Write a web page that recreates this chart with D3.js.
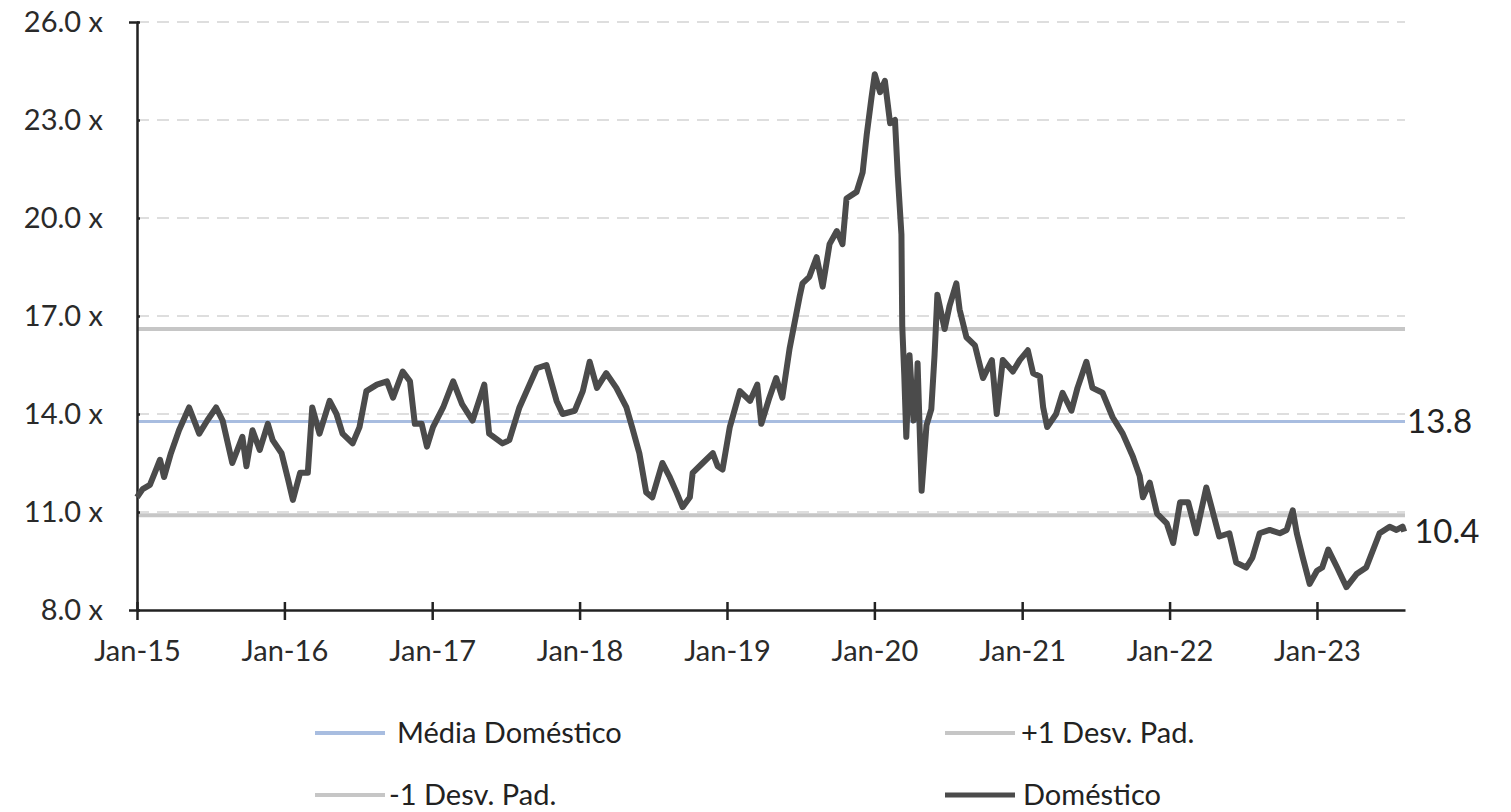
<!DOCTYPE html>
<html>
<head>
<meta charset="utf-8">
<script src="https://cdn.jsdelivr.net/npm/d3@7"></script>
<style>
  body { margin: 0; background: #fff; }
  text { font-family: Lato, "Open Sans", sans-serif; }
</style>
</head>
<body>
<div id="container"></div>
<script>
// P/L Doméstico
const dates = [
  "2015-01-01","2015-01-15","2015-02-02","2015-02-14","2015-02-27","2015-03-09","2015-03-26","2015-04-15",
  "2015-05-10","2015-06-04","2015-06-24","2015-07-16","2015-08-01","2015-08-25","2015-09-19","2015-09-29",
  "2015-10-14","2015-11-01","2015-11-21","2015-12-03","2015-12-25","2016-01-10","2016-01-22","2016-02-09",
  "2016-02-28","2016-03-10","2016-03-28","2016-04-22","2016-05-09","2016-05-24","2016-06-18","2016-07-05",
  "2016-07-22","2016-08-17","2016-09-11","2016-09-26","2016-10-20","2016-11-07","2016-11-19","2016-12-06",
  "2016-12-19","2017-01-03","2017-01-28","2017-02-22","2017-03-16","2017-04-11","2017-05-10","2017-05-22",
  "2017-06-24","2017-07-11","2017-08-05","2017-09-17","2017-10-11","2017-11-05","2017-11-20","2017-12-20",
  "2018-01-09","2018-01-26","2018-02-13","2018-03-08","2018-04-02","2018-04-27","2018-05-11","2018-05-29",
  "2018-06-15","2018-06-30","2018-07-25","2018-08-11","2018-08-29","2018-09-13","2018-10-01","2018-10-08",
  "2018-11-02","2018-11-27","2018-12-09","2018-12-21","2019-01-08","2019-02-02","2019-02-27","2019-03-17",
  "2019-03-27","2019-04-16","2019-05-03","2019-05-18","2019-06-05","2019-06-30","2019-07-07","2019-07-24",
  "2019-08-11","2019-08-26","2019-09-12","2019-09-30","2019-10-14","2019-10-24","2019-11-18","2019-12-03",
  "2019-12-13","2019-12-25","2020-01-02","2020-01-15","2020-01-27","2020-02-09","2020-02-21","2020-02-28",
  "2020-03-08","2020-03-10","2020-03-15","2020-03-20","2020-03-28","2020-04-07","2020-04-14","2020-04-17",
  "2020-04-27","2020-05-09","2020-05-21","2020-05-29","2020-06-05","2020-06-23","2020-07-05","2020-07-22",
  "2020-07-30","2020-08-16","2020-09-06","2020-09-26","2020-10-18","2020-10-30","2020-11-14","2020-12-09",
  "2020-12-26","2021-01-15","2021-01-28","2021-02-14","2021-02-22","2021-03-04","2021-03-26","2021-04-11",
  "2021-05-03","2021-05-18","2021-06-09","2021-06-24","2021-07-19","2021-08-13","2021-09-07","2021-10-02",
  "2021-10-19","2021-10-27","2021-11-13","2021-12-01","2021-12-25","2022-01-10","2022-01-27","2022-02-16",
  "2022-03-08","2022-04-02","2022-04-17","2022-05-04","2022-05-29","2022-06-15","2022-07-10","2022-07-25",
  "2022-08-12","2022-09-06","2022-10-01","2022-10-18","2022-11-02","2022-11-12","2022-11-27","2022-12-14",
  "2023-01-01","2023-01-14","2023-01-29","2023-02-20","2023-03-15","2023-04-09","2023-05-03","2023-06-05",
  "2023-06-30","2023-07-17","2023-08-01","2023-08-05"
];
const values = [
  11.45,11.7,11.83,12.2,12.6,12.07,12.8,13.5,
  14.2,13.4,13.8,14.2,13.8,12.5,13.3,12.4,
  13.5,12.9,13.7,13.2,12.8,12.0,11.37,12.2,
  12.2,14.2,13.4,14.4,14.0,13.4,13.1,13.6,
  14.7,14.9,15.0,14.5,15.3,15.0,13.7,13.7,
  13.0,13.6,14.2,15.0,14.3,13.8,14.9,13.4,
  13.1,13.2,14.2,15.4,15.5,14.4,14.0,14.1,
  14.7,15.6,14.8,15.25,14.8,14.2,13.6,12.8,
  11.6,11.45,12.5,12.1,11.6,11.15,11.45,12.2,
  12.5,12.8,12.4,12.3,13.6,14.7,14.4,14.9,
  13.7,14.5,15.1,14.5,16.0,17.6,18.0,18.2,
  18.8,17.9,19.2,19.6,19.2,20.6,20.8,21.4,
  22.55,23.7,24.4,23.85,24.2,22.9,23.0,21.3,
  19.5,16.7,15.2,13.3,15.8,13.8,14.35,15.55,
  11.65,13.65,14.15,15.8,17.65,16.6,17.3,18.0,
  17.2,16.35,16.1,15.1,15.65,14.0,15.65,15.3,
  15.65,15.95,15.25,15.15,14.2,13.6,14.0,14.65,
  14.1,14.8,15.6,14.8,14.65,13.9,13.4,12.7,
  12.1,11.45,11.9,10.95,10.65,10.05,11.3,11.3,
  10.35,11.75,11.05,10.25,10.35,9.45,9.3,9.6,
  10.35,10.45,10.35,10.45,11.05,10.35,9.6,8.8,
  9.2,9.3,9.85,9.3,8.7,9.1,9.3,10.35,
  10.55,10.45,10.55,10.4
];
const mean = 13.77;
const plusSD = 16.6;
const minusSD = 10.9;
const yTicks = [8, 11, 14, 17, 20, 23, 26];
const legendNames = ["Média Doméstico", "+1 Desv. Pad.", "-1 Desv. Pad.", "Doméstico"];

const width = 1511;
const height = 812;
const margin = { left: 137, top: 22, right: 106, bottom: 202 };
const svg = d3.select("#container").append("svg")
  .attr("width", width)
  .attr("height", height);

const parse = d3.timeParse("%Y-%m-%d");
const data = dates.map((d, i) => ({ date: parse(d), value: values[i] }));

const x = d3.scaleTime()
  .domain([new Date(2015, 0, 1), new Date(2023, 7, 7)])
  .range([margin.left, width - margin.right]);
const y = d3.scaleLinear()
  .domain([8, 26])
  .range([height - margin.bottom, margin.top]);

// dashed grid
svg.append("g")
  .selectAll("line")
  .data(yTicks.filter((d) => d > 8))
  .join("line")
  .attr("x1", margin.left)
  .attr("x2", width - margin.right)
  .attr("y1", (d) => y(d))
  .attr("y2", (d) => y(d))
  .attr("stroke", "#d4d4d4")
  .attr("stroke-width", 1.5)
  .attr("stroke-dasharray", "12,8");

// mean and +/- 1 sd
const refs = [
  { v: plusSD, color: "#c6c6c6", w: 4 },
  { v: minusSD, color: "#c6c6c6", w: 4 },
  { v: mean, color: "#a8bde0", w: 3 }
];
svg.append("g")
  .selectAll("line")
  .data(refs)
  .join("line")
  .attr("x1", margin.left)
  .attr("x2", width - margin.right)
  .attr("y1", (d) => y(d.v))
  .attr("y2", (d) => y(d.v))
  .attr("stroke", (d) => d.color)
  .attr("stroke-width", (d) => d.w);

// axes
const yAxis = svg.append("g")
  .attr("transform", `translate(${margin.left},0)`)
  .call(d3.axisLeft(y).tickValues(yTicks).tickFormat((d) => d3.format(".1f")(d) + " x").tickSize(8).tickPadding(26));
const xAxis = svg.append("g")
  .attr("transform", `translate(0,${height - margin.bottom})`)
  .call(d3.axisBottom(x).ticks(d3.timeYear.every(1)).tickFormat(d3.timeFormat("%b-%y")).tickSize(10).tickSizeOuter(0).tickPadding(20));
[yAxis, xAxis].forEach((g) => {
  g.select(".domain").attr("stroke", "#222").attr("stroke-width", 2.5);
  g.selectAll(".tick line").attr("stroke", "#222").attr("stroke-width", 2.5);
  g.selectAll("text").attr("font-family", "Lato").attr("font-size", 29).attr("fill", "#2a2a2a");
});
xAxis.selectAll(".tick line").attr("y1", -8);
yAxis.selectAll(".tick line").attr("x2", 3);

// series
const line = d3.line()
  .x((d) => x(d.date))
  .y((d) => y(d.value));
svg.append("path")
  .datum(data)
  .attr("d", line)
  .attr("fill", "none")
  .attr("stroke", "#4b4b4b")
  .attr("stroke-width", 6)
  .attr("stroke-linejoin", "round");

// end labels
const last = data[data.length - 1];
svg.append("text")
  .attr("x", width - margin.right + 2)
  .attr("y", y(mean))
  .attr("dy", "0.35em")
  .attr("font-size", 33)
  .attr("fill", "#222")
  .text(d3.format(".1f")(mean));
svg.append("text")
  .attr("x", x(last.date) + 10)
  .attr("y", y(last.value))
  .attr("dy", "0.35em")
  .attr("font-size", 33)
  .attr("fill", "#222")
  .text(d3.format(".1f")(last.value));

// legend
const legendColors = ["#a8bde0", "#c6c6c6", "#c6c6c6", "#4b4b4b"];
const legend = svg.append("g")
  .selectAll("g")
  .data(legendNames)
  .join("g")
  .attr("transform", (d, i) => `translate(${i % 2 ? 945 : 315},${i < 2 ? 733 : 795})`);
legend.append("line")
  .attr("x1", 0)
  .attr("x2", 70)
  .attr("stroke", (d, i) => legendColors[i])
  .attr("stroke-width", (d, i) => (i == 3 ? 5 : 4));
legend.append("text")
  .attr("x", (d, i) => [82, 76, 74, 78][i])
  .attr("dy", "0.33em")
  .attr("font-size", 29)
  .attr("fill", "#222")
  .text((d) => d);
</script>
</body>
</html>
